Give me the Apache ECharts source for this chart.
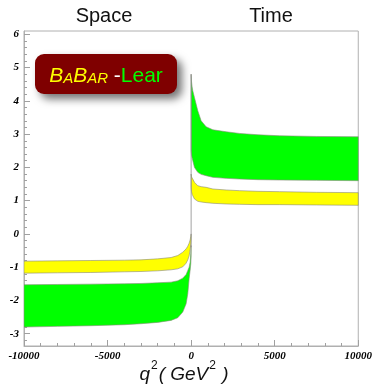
<!DOCTYPE html>
<html>
<head>
<meta charset="utf-8">
<script src="https://cdn.jsdelivr.net/npm/echarts@6/dist/echarts.min.js"></script>
<style>html,body{margin:0;padding:0;background:#fff}#c{width:375px;height:389px}</style>
</head>
<body>
<div id="c"></div>
<script>
// ---- data ----
const spaceX        = [-10000, -8000, -6000, -4000, -3000, -2000, -1200, -800, -500, -300, -200, -120, -60, -20, 0];
const spaceYellowHi = [-0.82, -0.81, -0.80, -0.79, -0.78, -0.75, -0.71, -0.65, -0.55, -0.45, -0.37, -0.28, -0.18, -0.08, 0.00];
const spaceYellowLo = [-1.18, -1.17, -1.16, -1.14, -1.13, -1.11, -1.08, -1.05, -0.99, -0.88, -0.78, -0.66, -0.48, -0.30, -0.15];
const spaceGreenHi  = [-1.53, -1.52, -1.51, -1.50, -1.49, -1.47, -1.45, -1.41, -1.33, -1.22, -1.10, -1.00, -0.85, -0.60, -0.35];
const spaceGreenLo  = [-2.80, -2.78, -2.76, -2.73, -2.70, -2.66, -2.60, -2.52, -2.35, -2.10, -1.80, -1.35, -1.10, -0.90, -0.70];

const timeX         = [0, 20, 60, 100, 200, 400, 600, 900, 1300, 2100, 2900, 4000, 5300, 7500, 10000];
const timeGreenHi   = [4.80, 4.60, 4.42, 4.30, 4.10, 3.70, 3.40, 3.22, 3.13, 3.07, 3.02, 2.98, 2.95, 2.93, 2.92];
const timeGreenLo   = [2.50, 2.38, 2.28, 2.20, 2.00, 1.85, 1.79, 1.75, 1.70, 1.67, 1.65, 1.63, 1.62, 1.61, 1.60];
const timeYellowHi  = [1.80, 1.73, 1.68, 1.65, 1.55, 1.45, 1.42, 1.40, 1.35, 1.32, 1.30, 1.28, 1.27, 1.25, 1.24];
const timeYellowLo  = [1.40, 1.28, 1.19, 1.15, 1.05, 0.98, 0.96, 0.94, 0.92, 0.90, 0.89, 0.88, 0.88, 0.87, 0.86];

const zeroLineX = [0, 0];
const zeroLineY = [-0.4, 4.8];

const yMajorTicks = [-3, -2, -1, 0, 1, 2, 3, 4, 5, 6];
const yMinorTicks = [-3.2, -2.8, -2.6, -2.4, -2.2, -1.8, -1.6, -1.4, -1.2, -0.8, -0.6, -0.4, -0.2,
                     0.2, 0.4, 0.6, 0.8, 1.2, 1.4, 1.6, 1.8, 2.2, 2.4, 2.6, 2.8, 3.2, 3.4, 3.6, 3.8,
                     4.2, 4.4, 4.6, 4.8, 5.2, 5.4, 5.6, 5.8];

const xMin = -10000, xMax = 10000, xInterval = 5000;
const yMin = -3.37, yMax = 6.1;

const YELLOW = '#ffff00', GREEN = '#00ff00';

// ---- chart ----
function band(xs, hi, lo, color) {
  return {
    type: 'custom',
    coordinateSystem: 'cartesian2d',
    xAxisIndex: 0, yAxisIndex: 0,
    silent: true,
    clip: true,
    data: xs.map((x, i) => [x, hi[i], lo[i]]),
    encode: { x: 0, y: [1, 2] },
    renderItem: function (params, api) {
      if (params.dataIndex !== 0) return null;
      const pts = [];
      for (let i = 0; i < xs.length; i++) pts.push(api.coord([xs[i], hi[i]]));
      for (let i = xs.length - 1; i >= 0; i--) pts.push(api.coord([xs[i], lo[i]]));
      return {
        type: 'polygon',
        shape: { points: pts },
        style: { fill: color, stroke: '#8a8a7a', lineWidth: 0.6 }
      };
    },
    z: 2
  };
}

const labelFont = { fontFamily: 'Liberation Serif', fontStyle: 'italic', fontWeight: 'bold', fontSize: 11, color: '#000' };

const chart = echarts.init(document.getElementById('c'), null, { renderer: 'canvas' });
chart.setOption({
  animation: false,
  backgroundColor: '#fff',
  grid: { left: 24, right: 16, top: 31, bottom: 43, show: true, borderColor: '#b0b0b0', borderWidth: 1, backgroundColor: 'transparent' },
  xAxis: {
    type: 'value', min: xMin, max: xMax, interval: xInterval,
    axisLine: { show: true, onZero: false, lineStyle: { color: '#b0b0b0', width: 1 } },
    axisTick: { show: true, inside: true, length: 6, lineStyle: { color: '#a0a0a0' } },
    minorTick: { show: true, splitNumber: 5, length: 3, lineStyle: { color: '#a0a0a0' } },
    axisLabel: Object.assign({ margin: 5, formatter: v => String(v) }, labelFont),
    splitLine: { show: false }
  },
  yAxis: [{
    type: 'value', min: yMin, max: yMax,
    axisLine: { show: true, onZero: false, lineStyle: { color: '#b0b0b0', width: 1 } },
    axisTick: { show: true, inside: true, length: 6, customValues: yMajorTicks, lineStyle: { color: '#a0a0a0' } },
    axisLabel: Object.assign({ margin: 5, customValues: yMajorTicks }, labelFont),
    splitLine: { show: false }
  }, {
    type: 'value', min: yMin, max: yMax, position: 'left', offset: 0,
    axisLine: { show: true, onZero: false, lineStyle: { color: '#b0b0b0', width: 1, opacity: 0 } },
    axisTick: { show: true, inside: true, length: 3, customValues: yMinorTicks, lineStyle: { color: '#a0a0a0' } },
    axisLabel: { show: true, customValues: yMinorTicks, formatter: () => '' },
    splitLine: { show: false }
  }],
  series: [
    band(spaceX, spaceYellowHi, spaceYellowLo, YELLOW),
    band(spaceX, spaceGreenHi, spaceGreenLo, GREEN),
    band(timeX, timeGreenHi, timeGreenLo, GREEN),
    band(timeX, timeYellowHi, timeYellowLo, YELLOW),
    {
      type: 'line', silent: true, symbol: 'none', z: 3,
      data: zeroLineX.map((x, i) => [x, zeroLineY[i]]),
      lineStyle: { color: '#8a8a8a', width: 0.8 }
    }
  ],
  graphic: [
    { type: 'text', x: 104, y: 16, style: { text: 'Space', fill: '#111', font: '20px "Liberation Sans", Arial, sans-serif', align: 'center', verticalAlign: 'middle' } },
    { type: 'text', x: 271, y: 16, style: { text: 'Time', fill: '#111', font: '20px "Liberation Sans", Arial, sans-serif', align: 'center', verticalAlign: 'middle' } },
    {
      type: 'rect', z: 10,
      shape: { x: 35, y: 54, width: 142, height: 40, r: 9 },
      style: { fill: '#7f0000', shadowBlur: 8, shadowOffsetX: 5, shadowOffsetY: 5, shadowColor: 'rgba(0,0,0,0.55)' }
    },
    {
      type: 'text', z: 11, x: 106, y: 75,
      style: {
        text: '{b|B}{s|A}{b|B}{s|AR}{w| -}{g|Lear}',
        align: 'center', verticalAlign: 'middle',
        rich: {
          b: { fontFamily: 'Liberation Sans', fontStyle: 'italic', fontSize: 21, fill: YELLOW, verticalAlign: 'bottom', lineHeight: 24 },
          s: { fontFamily: 'Liberation Sans', fontStyle: 'italic', fontSize: 15, fill: YELLOW, verticalAlign: 'bottom', lineHeight: 24, padding: [0, 0, 1, 0] },
          w: { fontFamily: 'Liberation Sans', fontSize: 21, fill: '#ffffff', verticalAlign: 'bottom', lineHeight: 24 },
          g: { fontFamily: 'Liberation Sans', fontSize: 21, fill: GREEN, verticalAlign: 'bottom', lineHeight: 24 }
        }
      }
    },
    {
      type: 'text', x: 184, y: 372,
      style: {
        text: '{i|q}{s|2}{i|( GeV}{s|2}{i| )}',
        align: 'center', verticalAlign: 'middle',
        rich: {
          i: { fontFamily: 'Liberation Sans', fontStyle: 'italic', fontSize: 19, fill: '#111', lineHeight: 24, verticalAlign: 'bottom' },
          s: { fontFamily: 'Liberation Sans', fontSize: 12, fill: '#111', lineHeight: 24, verticalAlign: 'top', padding: [0, 1, 0, 1] }
        }
      }
    }
  ]
});
</script>
</body>
</html>
